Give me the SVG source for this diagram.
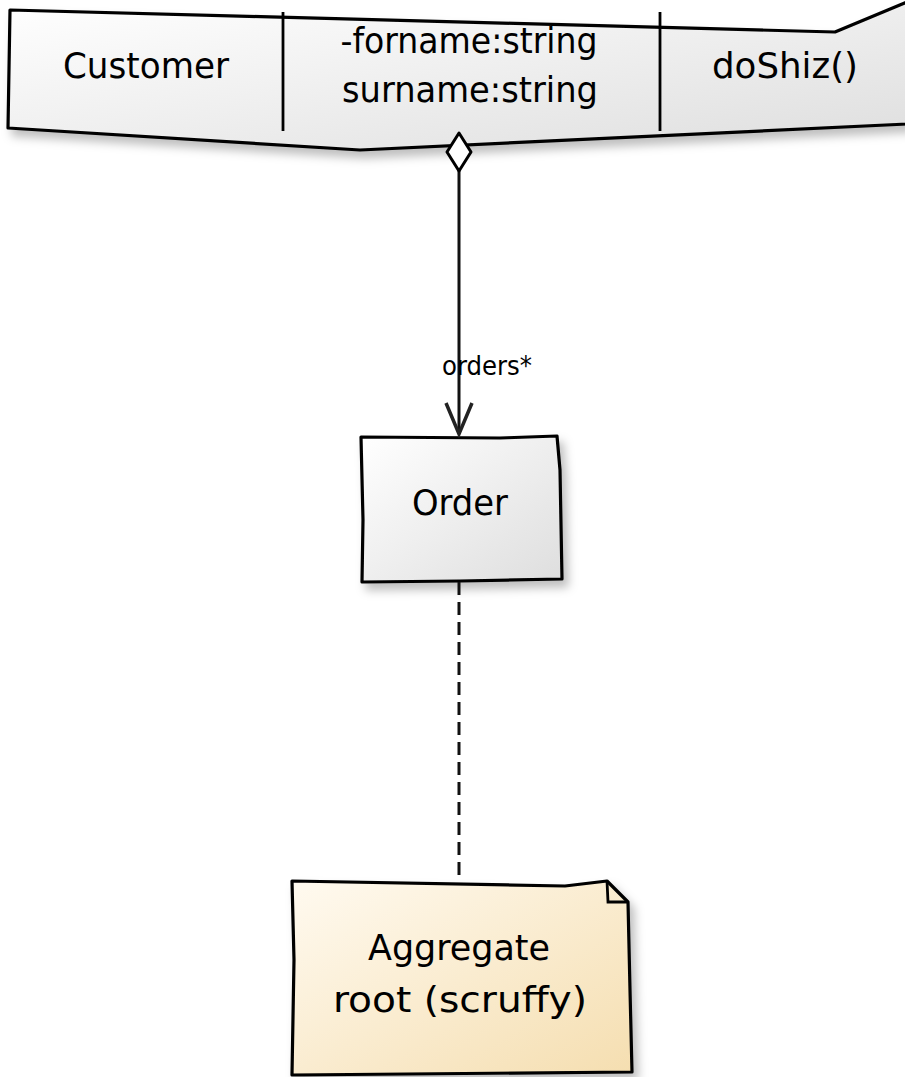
<svg xmlns="http://www.w3.org/2000/svg" width="905" height="1077" viewBox="0 0 905 1077">
  <defs>
    <linearGradient id="classFill" x1="0" y1="0" x2="1" y2="1">
      <stop offset="0" stop-color="#ffffff"/>
      <stop offset="1" stop-color="#dedede"/>
    </linearGradient>
    <linearGradient id="noteFill" x1="0" y1="0" x2="1" y2="1">
      <stop offset="0" stop-color="#fffaf0"/>
      <stop offset="1" stop-color="#f5deb0"/>
    </linearGradient>
    <filter id="shadow" x="-10%" y="-10%" width="130%" height="140%">
      <feDropShadow dx="5" dy="7" stdDeviation="5" flood-color="#000" flood-opacity="0.25"/>
    </filter>
  </defs>
  <style>
    .outline { stroke: #000; stroke-width: 3.2; stroke-linejoin: round; }
    .divider { stroke: #000; stroke-width: 2.8; fill: none; }
    .edge { stroke: #111; stroke-width: 3; fill: none; }
    .label { font-family: "Liberation Sans Narrow", "DejaVu Sans Condensed", "Liberation Sans", sans-serif; fill: #000; text-anchor: middle; }
    .big { font-size: 36px; }
    .small { font-size: 26px; }
  </style>

  <rect width="905" height="1077" fill="#ffffff"/>

  <!-- Customer class: name | attributes | operations -->
  <g id="customer">
    <path class="outline" fill="url(#classFill)" filter="url(#shadow)"
          d="M10,10 L835,32 L907,2 L907,124 L360,150 L8,128 Z"/>
    <line class="divider" x1="283" y1="12" x2="283" y2="131"/>
    <line class="divider" x1="660" y1="12" x2="660" y2="131"/>
    <text class="label big" x="146" y="78" textLength="166" lengthAdjust="spacingAndGlyphs">Customer</text>
    <text class="label big" x="469" y="53" textLength="257" lengthAdjust="spacingAndGlyphs">-forname:string</text>
    <text class="label big" x="470" y="102" textLength="256" lengthAdjust="spacingAndGlyphs">surname:string</text>
    <text class="label big" x="785" y="78" textLength="146" lengthAdjust="spacingAndGlyphs">doShiz()</text>
  </g>

  <!-- Order class -->
  <g id="order">
    <path class="outline" fill="url(#classFill)" filter="url(#shadow)"
          d="M361,437 L500,438 L557,436 L560,470 L562,579 L460,581 L362,582 L363,520 Z"/>
    <text class="label big" x="460" y="515" textLength="96" lengthAdjust="spacingAndGlyphs">Order</text>
  </g>

  <!-- Note attached to Order -->
  <g id="note">
    <path class="outline" fill="url(#noteFill)" filter="url(#shadow)"
          d="M292,881 L565,886 L607,881 L628,902 L630,990 L632,1072 L292,1075 L294,960 Z"/>
    <path class="divider" d="M607,881 L608,902 L628,902"/>
    <text class="label big" x="459" y="960" textLength="182" lengthAdjust="spacingAndGlyphs">Aggregate</text>
    <text class="label big" x="460" y="1012" textLength="254" lengthAdjust="spacingAndGlyphs">root (scruffy)</text>
  </g>

  <!-- Connectors -->
  <g id="connectors">
    <!-- aggregation: Customer to Order -->
    <line class="edge" x1="459" y1="170" x2="459" y2="434"/>
    <path d="M459,133 L471,152 L459,171 L447,152 Z" fill="#fff" stroke="#000" stroke-width="3" stroke-linejoin="round"/>
    <path d="M446,403 L459,434 L472,403" fill="none" stroke="#222" stroke-width="3.5" stroke-linejoin="miter"/>
    <text class="label small" x="487" y="375" textLength="90" lengthAdjust="spacingAndGlyphs">orders*</text>
    <!-- note link: Order to note -->
    <line class="edge" x1="459" y1="582" x2="459" y2="880" stroke-dasharray="13,7"/>
  </g>
</svg>
